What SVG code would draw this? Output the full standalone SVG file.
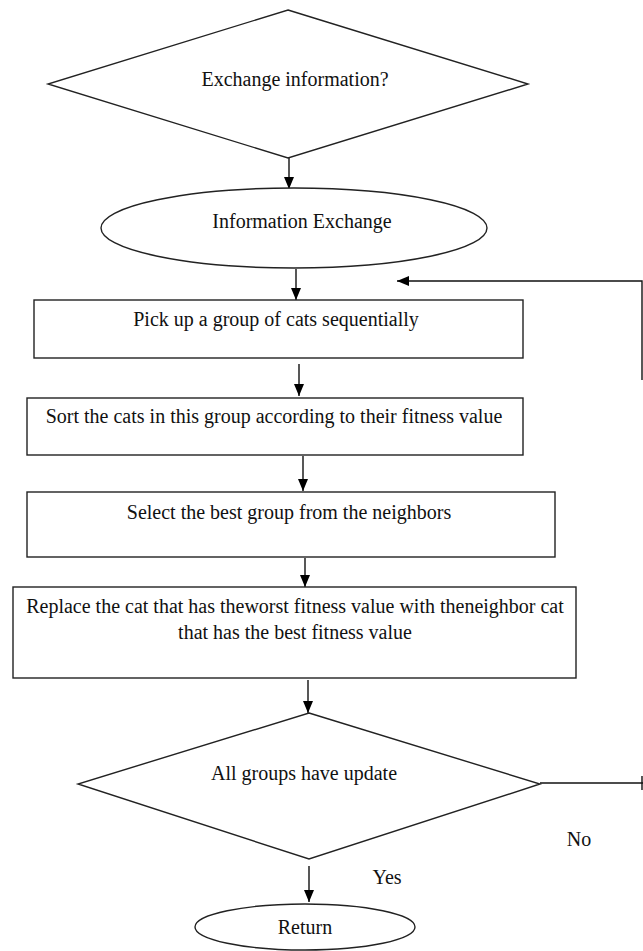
<svg xmlns="http://www.w3.org/2000/svg" width="643" height="951" viewBox="0 0 643 951">
  <defs>
    <marker id="arrow" viewBox="0 0 12 10" refX="12" refY="5" markerWidth="12" markerHeight="10" markerUnits="userSpaceOnUse" orient="auto">
      <path d="M0,0 L12,5 L0,10 Z" fill="#000"/>
    </marker>
    <style>
      .shape { fill: #fff; stroke: #222; stroke-width: 1.4; }
      .edge { fill: none; stroke: #111; stroke-width: 1.4; }
      text { font-family: "Liberation Serif", "Times New Roman", serif; font-size: 20px; fill: #111; text-anchor: middle; }
    </style>
  </defs>
  <rect width="643" height="951" fill="#fff"/>

  <!-- connectors -->
  <g id="connectors">
    <line class="edge" x1="289" y1="158" x2="289" y2="189" marker-end="url(#arrow)"/>
    <line class="edge" x1="296" y1="269" x2="296" y2="300" marker-end="url(#arrow)"/>
    <line class="edge" x1="299" y1="364" x2="299" y2="396" marker-end="url(#arrow)"/>
    <line class="edge" x1="303" y1="456" x2="303" y2="491" marker-end="url(#arrow)"/>
    <line class="edge" x1="305" y1="558" x2="305" y2="587" marker-end="url(#arrow)"/>
    <line class="edge" x1="308" y1="680" x2="308" y2="713" marker-end="url(#arrow)"/>
    <line class="edge" x1="309" y1="866" x2="309" y2="902" marker-end="url(#arrow)"/>
    <!-- loop back from "No" to the group picker -->
    <polyline class="edge" points="642,380 642,281 397,281" marker-end="url(#arrow)"/>
    <line class="edge" x1="540" y1="783" x2="643" y2="783"/>
    <line class="edge" x1="642" y1="776" x2="642" y2="790"/>
  </g>

  <g id="decision-exchange">
    <polygon class="shape" points="288,10 528,84 288,158 48,84"/>
    <text x="295" y="86">Exchange information?</text>
  </g>

  <g id="info-exchange">
    <ellipse class="shape" cx="294" cy="228" rx="193" ry="40"/>
    <text x="302" y="228">Information Exchange</text>
  </g>

  <g id="pick-group">
    <rect class="shape" x="34" y="300" width="489" height="58"/>
    <text x="276" y="326">Pick up a group of cats sequentially</text>
  </g>

  <g id="sort-cats">
    <rect class="shape" x="27" y="398" width="496" height="57"/>
    <text x="274" y="423">Sort the cats in this group according to their fitness value</text>
  </g>

  <g id="select-best">
    <rect class="shape" x="27" y="492" width="528" height="65"/>
    <text x="289" y="519">Select the best group from the neighbors</text>
  </g>

  <g id="replace-worst">
    <rect class="shape" x="13" y="587" width="563" height="91"/>
    <text x="295" y="613">Replace the cat that has theworst fitness value with theneighbor cat</text>
    <text x="295" y="639">that has the best fitness value</text>
  </g>

  <g id="decision-updated">
    <polygon class="shape" points="309,713 540,784 309,859 78,784"/>
    <text x="304" y="780">All groups have update</text>
  </g>

  <g id="return">
    <ellipse class="shape" cx="305" cy="927" rx="110" ry="23"/>
    <text x="305" y="934">Return</text>
  </g>

  <g id="labels">
    <text x="387" y="884">Yes</text>
    <text x="579" y="846">No</text>
  </g>
</svg>
